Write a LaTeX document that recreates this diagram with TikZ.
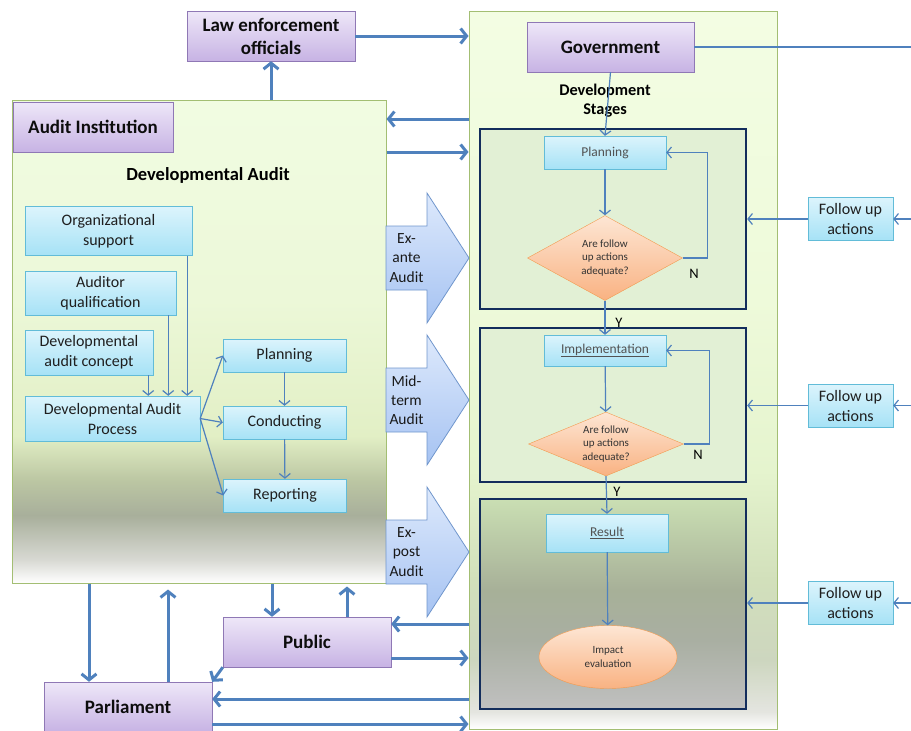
\documentclass[tikz,border=0pt]{standalone}
\usepackage{fontspec}
\setmainfont{Carlito}
\usetikzlibrary{positioning,arrows.meta,shapes.geometric,calc}
\definecolor{uActorTop}{HTML}{EEE7F8}
\definecolor{uActorBot}{HTML}{C7B3E4}
\definecolor{uActorLine}{HTML}{8F78B5}
\definecolor{uTaskTop}{HTML}{DCF4FC}
\definecolor{uTaskBot}{HTML}{A6E2F6}
\definecolor{uTaskLine}{HTML}{62BCD8}
\definecolor{uCheckTop}{HTML}{FDE6D4}
\definecolor{uCheckBot}{HTML}{F9B282}
\definecolor{uCheckLine}{HTML}{F39A4E}
\definecolor{uBlockTop}{HTML}{DDE9FC}
\definecolor{uBlockBot}{HTML}{A6C3F2}
\definecolor{uBlockLine}{HTML}{7096CC}
\definecolor{uFlow}{HTML}{4F81BD}
\definecolor{uNavy}{HTML}{132D5C}
\definecolor{uStage}{HTML}{E2F0D5}
\definecolor{uPanelLine}{HTML}{A3BE73}
% left panel: pale green, into grey-green, out to white
\definecolor{aFadeA}{HTML}{D8D9D3}
\definecolor{aFadeB}{HTML}{A8AF9B}
\definecolor{aFadeC}{HTML}{BCC7A3}
\definecolor{aFadeD}{HTML}{E2EFC5}
\definecolor{aFadeE}{HTML}{ECF8D8}
\definecolor{aFadeF}{HTML}{F1FCE2}
% right panel
\definecolor{dFadeA}{HTML}{E4E5E0}
\definecolor{dFadeB}{HTML}{CDD6BF}
\definecolor{dFadeC}{HTML}{D2E0BB}
\definecolor{dFadeD}{HTML}{E5F4CE}
\definecolor{dFadeE}{HTML}{EEFADA}
\definecolor{dFadeF}{HTML}{F3FDE3}
% result frame
\definecolor{rFadeA}{HTML}{C0C0C0}
\definecolor{rFadeB}{HTML}{A9AFA2}
\definecolor{rFadeC}{HTML}{A7B098}
\definecolor{rFadeD}{HTML}{CADFB3}
\pgfdeclareverticalshading{auditfade}{100bp}{color(0bp)=(white); color(25bp)=(white);
  color(27.4bp)=(aFadeA); color(32bp)=(aFadeB); color(35.7bp)=(aFadeC);
  color(40.2bp)=(aFadeD); color(54.3bp)=(aFadeE); color(75bp)=(aFadeF); color(100bp)=(aFadeF)}
\pgfdeclareverticalshading{stagefade}{100bp}{color(0bp)=(white); color(25bp)=(white);
  color(26.2bp)=(dFadeA); color(29.8bp)=(dFadeB); color(35.4bp)=(dFadeC);
  color(43bp)=(dFadeD); color(54.9bp)=(dFadeE); color(75bp)=(dFadeF); color(100bp)=(dFadeF)}
\pgfdeclareverticalshading{resultfade}{100bp}{color(0bp)=(rFadeA); color(25bp)=(rFadeA);
  color(41.4bp)=(rFadeB); color(53.3bp)=(rFadeC); color(75bp)=(rFadeD); color(100bp)=(rFadeD)}
\tikzset{
  box/.style={draw, align=center, inner sep=2pt},
  actor/.style={box, draw=uActorLine, top color=uActorTop, bottom color=uActorBot,
                font=\bfseries\fontsize{19}{23}\selectfont, text=black!95,
                minimum width=168pt, minimum height=50pt},
  task/.style={box, draw=uTaskLine, top color=uTaskTop, bottom color=uTaskBot,
               font=\fontsize{16}{20}\selectfont, text=black!88},
  stagetask/.style={task, font=\fontsize{13.5}{16}\selectfont, text=black!68,
                    minimum width=122pt},
  check/.style={diamond, draw=uCheckLine, top color=uCheckTop, bottom color=uCheckBot,
                align=center, inner sep=0pt, minimum width=155pt,
                font=\fontsize{11}{13.3}\selectfont, text=black!80},
  impact/.style={ellipse, draw=uCheckLine, top color=uCheckTop, bottom color=uCheckBot,
                 align=center, minimum width=138pt, minimum height=63pt,
                 font=\fontsize{11}{13.3}\selectfont, text=black!80},
  panel/.style={draw=uPanelLine, line width=1pt, shade, inner sep=0pt},
  stage/.style={draw=uNavy, line width=2.4pt, fill=uStage, inner sep=0pt,
                minimum width=266pt},
  blockarr/.style={draw=uBlockLine, line width=0.8pt, top color=uBlockTop,
                   bottom color=uBlockBot},
  blocktxt/.style={align=center, inner sep=0pt, font=\fontsize{15.5}{19.3}\selectfont,
                   text=black!90},
  heading/.style={align=center, inner sep=0pt, font=\bfseries\fontsize{18.5}{22}\selectfont},
  yn/.style={inner sep=0pt, font=\fontsize{14.5}{16}\selectfont},
  bigflow/.style={-{Straight Barb[length=6pt,width=15pt]}, draw=uFlow, line width=3pt},
  flow/.style={-{Straight Barb[length=4.5pt,width=11pt]}, draw=uFlow, line width=1.2pt},
  plainline/.style={draw=uFlow, line width=1.2pt},
}
% one fat audit arrow between the panels: name, centre y, text
\newcommand{\auditarrow}[3]{%
  \draw[blockarr] (386,#2-32) -- (427,#2-32) -- (427,#2-65) -- (469,#2)
    -- (427,#2+65) -- (427,#2+32) -- (386,#2+32) -- cycle;
  \node[blocktxt] (#1) at (406.5,#2) {#3};}

\begin{document}
\begin{tikzpicture}[x=1pt, y=-1pt]
\useasboundingbox (0,0) rectangle (911,731);

%% ── the two panels ──────────────────────────────────────────────────────
\node[panel, shading=auditfade, minimum width=374pt, minimum height=483pt]
  (audit) at (199,341.5) {};
\node[panel, shading=stagefade, minimum width=308pt, minimum height=718pt]
  (devel) at (623,370) {};

\node[stage, minimum height=180pt] (st1) at (613,219) {};
\node[stage, minimum height=154pt] (st2) at (613,405) {};
\node[stage, shade, shading=resultfade, minimum height=210pt] (st3) at (613,604) {};

\auditarrow{exante}{258}{Ex-\\ante\\Audit}
\auditarrow{midterm}{400}{Mid-\\term\\Audit}
\auditarrow{expost}{552}{Ex-\\post\\Audit}

%% ── actors ───────────────────────────────────────────────────────────────
\node[actor] (law) at (271,36) {Law enforcement\\officials};
\node[actor, minimum width=167pt] (gov) at (610.5,47) {Government};
\node[actor, minimum width=160pt] (inst) at (93,127) {Audit Institution};
\node[actor] (public) at (307,642) {Public};
\node[actor] (parl) at (128,707) {Parliament};

\node[heading] (datitle) at (208,175) {Developmental Audit};
\node[heading, font=\bfseries\fontsize{16.3}{19}\selectfont] (dstitle) at (605,100.5)
  {Development\\Stages};

%% ── developmental audit, left ────────────────────────────────────────────
\node[task, minimum width=167pt, minimum height=49pt] (orgsup) at (108.5,231)
  {Organizational\\support};
\node[task, minimum width=151pt, minimum height=44pt] (audq) at (100.5,293)
  {Auditor\\qualification};
\node[task, minimum width=128pt, minimum height=45pt] (concept) at (89,352.5)
  {Developmental\\audit concept};
\node[task, minimum width=175pt, minimum height=45pt] (dap) at (112.5,418.5)
  {Developmental Audit\\Process};
\node[task, minimum width=123pt, minimum height=33pt] (plan) at (284.5,355.5) {Planning};
\node[task, minimum width=123pt, minimum height=33pt] (cond) at (284.5,422.5) {Conducting};
\node[task, minimum width=123pt, minimum height=33pt] (rep) at (285,495.5) {Reporting};

\foreach \src/\dx in {orgsup/-5, audq/-8, concept/-5} {
  \coordinate (drop) at ($(\src.south east)+(\dx,0)$);
  \draw[flow] (drop) -- (drop |- dap.north);
}
\foreach \t in {plan, cond, rep}
  \draw[flow] (dap.east) -- (\t.west);
\draw[flow] (plan) -- (cond);
\draw[flow] (cond) -- (rep);

%% ── development stages, right ────────────────────────────────────────────
\node[stagetask, minimum height=33pt] (splan) at (605,152.5) {Planning};
\node[check, aspect=1.82, minimum height=85pt] (chk1) at (605,258)
  {Are follow\\up actions\\adequate?};
\node[stagetask, minimum height=31pt] (simpl) at (605,350.5) {\underline{Implementation}};
\node[check, aspect=2.42, minimum height=64pt] (chk2) at (606,444)
  {Are follow\\up actions\\adequate?};
\node[stagetask, minimum height=38pt] (sres) at (607,533) {\underline{Result}};
\node[impact] (impact) at (608,657) {Impact\\evaluation};

\draw[flow] (gov.south) -- (splan.north);
\draw[flow] (splan) -- (chk1);
\draw[flow] (chk1.east) -- ++(25,0) |- (splan.east);
\node[yn] (n1) at (694,274) {N};
\draw[flow] (chk1.south) -- (simpl.north);
\node[yn] (y1) at (619,323) {Y};
\draw[flow] (simpl) -- (chk2);
\draw[flow] (chk2.east) -- ++(25.5,0) |- (simpl.east);
\node[yn] (n2) at (698,455) {N};
\draw[flow] (chk2.south) -- (sres.north);
\node[yn] (y2) at (617,492) {Y};
\draw[flow] (sres) -- (impact);

%% ── follow up, from the right edge ───────────────────────────────────────
\foreach \n/\s/\y in {fu1/st1/219, fu2/st2/405.5, fu3/st3/603} {
  \node[task, minimum width=85pt, minimum height=43pt] (\n) at (850.5,\y)
    {Follow up\\actions};
  \draw[flow] (\n.east -| 911,0) -- (\n.east);
  \draw[flow] (\n.west) -- (\n.west -| \s.east);
}
\draw[plainline] (gov.east) -- (gov.east -| 911,0);

%% ── who reports to whom ──────────────────────────────────────────────────
\draw[bigflow] (audit.north -| law.south) -- (law.south);
\draw[bigflow] (law.east) -- (law.east -| devel.west);
\draw[bigflow] (devel.west |- 0,119) -- (audit.east |- 0,119);
\draw[bigflow] (audit.east |- 0,152) -- (devel.west |- 0,152);
\draw[bigflow] (audit.south -| 89,0) -- (parl.north -| 89,0);
\draw[bigflow, shorten >=6pt] (parl.north -| 168,0) -- (audit.south -| 168,0);
\draw[bigflow] (audit.south -| 272,0) -- (public.north -| 272,0);
\draw[bigflow, shorten >=3pt] (public.north -| 347,0) -- (audit.south -| 347,0);
\draw[bigflow] (public.south west) -- (parl.north east);
\draw[bigflow] (devel.west |- 0,624) -- (public.east |- 0,624);
\draw[bigflow] (public.east |- 0,658) -- (devel.west |- 0,658);
\draw[bigflow] (devel.west |- 0,699) -- (parl.east |- 0,699);
\draw[bigflow] (parl.east |- 0,724) -- (devel.west |- 0,724);

\end{tikzpicture}
\end{document}
